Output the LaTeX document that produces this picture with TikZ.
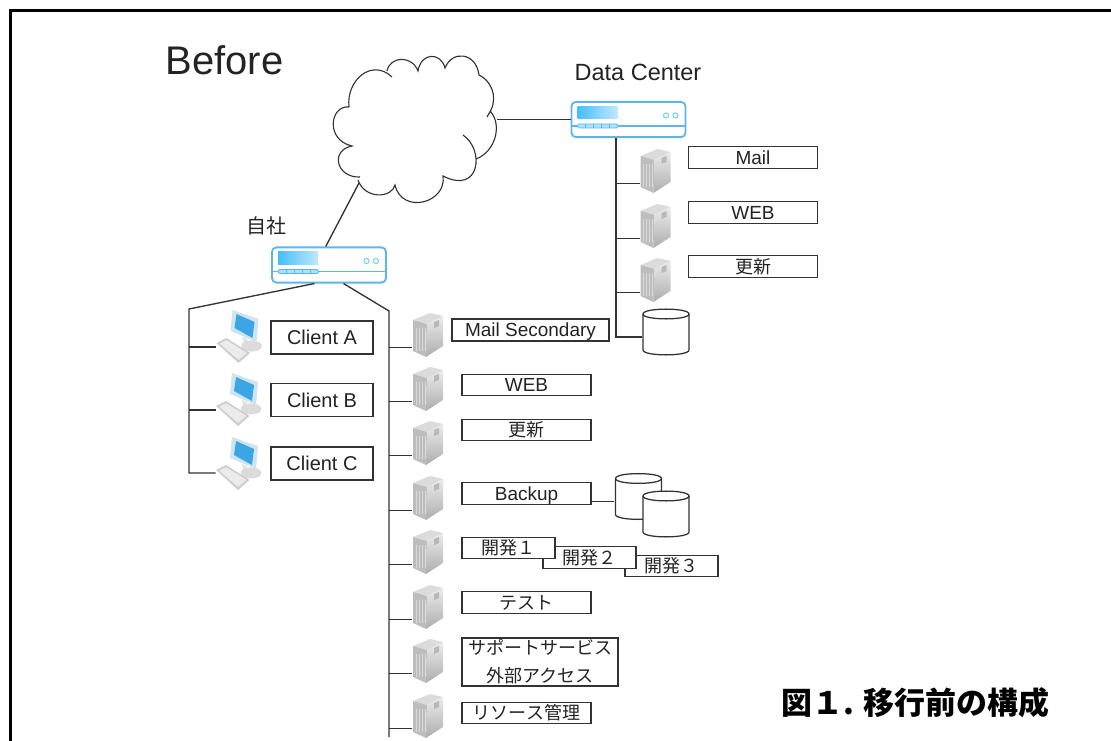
\documentclass[tikz,border=0pt]{standalone}
\usepackage{fontspec}
\setmainfont{Liberation Sans}
\newfontfamily\jpfont{Noto Sans CJK JP}

\definecolor{colorline}{RGB}{50,50,50}
\definecolor{colortext}{RGB}{35,35,35}
\definecolor{colorrouter}{RGB}{95,180,235}
\definecolor{colorbar}{RGB}{70,190,250}
\definecolor{colorscreen}{RGB}{60,165,230}
\definecolor{colormonitor}{RGB}{208,228,240}

\tikzset{
	conn/.style={draw=colorline, line width=0.95pt},
	tagbox/.style={draw=colorline, fill=white, line width=0.9pt, inner sep=0pt, text=colortext, minimum width=3.225cm, minimum height=0.54cm, text height=12pt, text depth=2.2pt, font=\fontsize{13.5pt}{20pt}\selectfont},
	tagjp/.style={tagbox, font=\fontsize{12.8pt}{20pt}\selectfont\jpfont},
	clientbox/.style={tagbox, minimum width=2.55cm, minimum height=0.83cm, text height=13pt, text depth=3pt, font=\fontsize{14.2pt}{17pt}\selectfont},
	diskbox/.style={minimum width=1.2cm, minimum height=1.2cm, inner sep=0pt,
		path picture={
			\begin{scope}[shift={(path picture bounding box.center)}]
				\draw[colorline, fill=white, line width=0.9pt] (-23,-18) -- (-23,18) .. controls (-23,24.5) and (23,24.5) .. (23,18) -- (23,-18) .. controls (23,-24.5) and (-23,-24.5) .. (-23,-18) -- cycle;
				\draw[colorline, line width=0.9pt] (-23,-18) .. controls (-23,-11.5) and (23,-11.5) .. (23,-18);
			\end{scope}
		}},
	routerbox/.style={draw=colorrouter, fill=white, line width=1.3pt, rounded corners=0.11cm, minimum width=2.85cm, minimum height=0.88cm, inner sep=0pt,
		path picture={
			\begin{scope}[shift={(path picture bounding box.center)}, sharp corners]
				\shade[left color=colorbar, right color=colorbar!35] (-51,-13) rectangle (-11,-0.5);
				\draw[colorrouter, line width=0.8pt] (-60,6.5) -- (60,6.5);
				\draw[colorrouter, fill=colorbar!45, line width=0.6pt, rounded corners=0.04cm] (-51,4.5) rectangle (-10.5,8.5);
				\foreach \tickx in {-43,-35,-27,-19} {
					\draw[colorrouter, line width=0.4pt] (\tickx,4.5) -- (\tickx,8.5);
				}
				\draw[colorbar!70, line width=0.8pt] (37.5,-4) circle (0.065cm);
				\draw[colorbar!70, line width=0.8pt] (47,-4) circle (0.065cm);
			\end{scope}
		}},
	serverbox/.style={minimum width=0.775cm, minimum height=1.125cm, inner sep=0pt,
		path picture={
			\begin{scope}[shift={(path picture bounding box.center)}]
				\fill[black!14] (-15,-15) -- (2,-22) -- (15,-19) -- (-1,-11) -- cycle;
				\fill[black!26] (-15,-15) -- (-1,-11) -- (-2,22) -- (-15,16) -- cycle;
				\shade[top color=black!8, bottom color=black!32] (-1,-11) -- (15,-19) -- (15,11) -- (-2,22) -- cycle;
				\foreach \stripex in {-12,-9,-6,-3} {
					\draw[white!85!black, line width=0.7pt] (\stripex,-7) -- (\stripex,16);
				}
				\fill[black!28] (6,-13) -- (11,-15) -- (11,-9) -- (6,-7) -- cycle;
			\end{scope}
		}},
	pcbox/.style={minimum width=1.15cm, minimum height=1.35cm, inner sep=0pt,
		path picture={
			\begin{scope}[shift={(path picture bounding box.center)}]
				\fill[black!10] (3,0) -- (8,2) -- (9,9) -- (4,8) -- cycle;
				\fill[black!14] (12,9) ellipse (0.26cm and 0.14cm);
				\fill[black!20] (-23,6) -- (-13,1) -- (10.5,16) -- (-1,26) -- cycle;
				\fill[black!8] (-20,6.5) -- (-13,3) -- (7.5,16) -- (-1,23) -- cycle;
				\fill[colormonitor] (-7,-27) -- (19,-18) -- (17,5) -- (-9,-6) -- cycle;
				\fill[colorscreen] (-3,-23) -- (15,-15) -- (13,1) -- (-5,-9) -- cycle;
			\end{scope}
		}},
}

\begin{document}
\begin{tikzpicture}[x=0.025cm, y=-0.025cm]
	\useasboundingbox (0,0) rectangle (1111,741);
	\draw[black, line width=2.2pt] (10.5,741) -- (10.5,10.5) -- (1111,10.5);

	\node[text=colortext, font=\fontsize{28.4pt}{32pt}\selectfont] (before) at (224.5,60) {Before};
	\node[text=colortext, font=\fontsize{16.7pt}{20pt}\selectfont] (dclabel) at (638,72) {Data Center};
	\node[text=colortext, font=\fontsize{14.2pt}{17pt}\selectfont\jpfont] (ownlabel) at (266,226) {自社};
	\node[text=black, font=\fontsize{22pt}{26pt}\selectfont\jpfont\bfseries] (caption) at (915.5,703) {図１. 移行前の構成};

	% cloud
	\node[minimum width=4.15cm, minimum height=3.8cm, inner sep=0pt] (cloud) at (414,129) {};
	\coordinate (cloudfoot) at (359,183);
	\draw[conn, line width=0.8pt] (349,107) .. controls (346,80) and (372,58) .. (392,77)
		(387,71) .. controls (390,56) and (412,55) .. (418,71)
		.. controls (421,52) and (441,52) .. (445,68)
		.. controls (452,50) and (476,52) .. (479,75)
		.. controls (490,80) and (498,95) .. (491,110) -- (487,117)
		(490,111) .. controls (503,125) and (495,152) .. (476,159)
		(463,135) .. controls (485,150) and (480,195) .. (443,176)
		.. controls (447,203) and (402,215) .. (395,185)
		.. controls (392,198) and (365,200) .. (358,180)
		(360,177) .. controls (336,178) and (330,150) .. (352,146)
		.. controls (325,140) and (330,105) .. (349,107);

	% routers
	\node[routerbox] (rtdc) at (628.5,119.5) {};
	\node[routerbox] (rtown) at (329,265) {};

	% data center
	\coordinate (dcend) at (616,337);
	\node[serverbox] (dcs1) at (655.5,171) {};
	\node[serverbox] (dcs2) at (655.5,226) {};
	\node[serverbox] (dcs3) at (655.5,280) {};
	\node[diskbox] (dcdisk) at (666,332) {};
	\node[tagbox] (dcmail) at (753,157.5) {Mail};
	\node[tagbox] (dcweb) at (753,212.5) {WEB};
	\node[tagjp] (dcupd) at (753,266.5) {更新};
	\draw[conn] (cloud.east |- rtdc.west) -- (rtdc.west);
	\draw[conn] (rtdc.south -| dcend) -- (dcend) -- (dcend -| dcdisk.west);
	\foreach \srv in {dcs1,dcs2,dcs3} {
		\draw[conn] (\srv.218 -| dcend) -- (\srv.218);
	}

	% clients
	\coordinate (lanleft) at (189,309);
	\coordinate (lanleftend) at (189,473);
	\node[pcbox] (pca) at (239.5,337) {};
	\node[pcbox] (pcb) at (239,400) {};
	\node[pcbox] (pcc) at (239,464) {};
	\node[clientbox] (cla) at (322,337.5) {Client A};
	\node[clientbox] (clb) at (322,400) {Client B};
	\node[clientbox] (clc) at (322,463.5) {Client C};
	\draw[conn] (rtown.232) -- (lanleft) -- (lanleftend) -- (lanleftend -| pcc.west);
	\draw[conn] (lanleft |- pca.203) -- (pca.203);
	\draw[conn] (lanleft |- pcb.203) -- (pcb.203);

	% servers
	\coordinate (lanright) at (389,311);
	\coordinate (lanrightend) at (389,737);
	\foreach \srv/\posy in {sva/335,svb/389,svc/443,svd/498,sve/552,svf/607,svg/661,svh/716} {
		\node[serverbox] (\srv) at (428,\posy) {};
	}
	\node[tagbox, minimum width=3.925cm, minimum height=0.55cm] (mailsec) at (530.5,330) {Mail Secondary};
	\node[tagbox] (web) at (526.5,385) {WEB};
	\node[tagjp] (upd) at (526.5,430) {更新};
	\node[tagbox] (backup) at (526.5,493.5) {Backup};
	\node[tagjp, minimum width=2.325cm] (dev3) at (671.5,566) {開発３};
	\node[tagjp, minimum width=2.325cm] (dev2) at (589.5,557.5) {開発２};
	\node[tagjp, minimum width=2.325cm] (dev1) at (508.5,548) {開発１};
	\node[tagjp] (test) at (526.5,602.5) {テスト};
	\node[tagjp, align=center, text height=, text depth=, minimum width=3.9cm, minimum height=1.2cm] (support) at (540,662) {サポートサービス\\外部アクセス};
	\node[tagjp] (resource) at (526.5,713) {リソース管理};
	\node[diskbox] (bkdisk1) at (638.5,496.5) {};
	\node[diskbox] (bkdisk2) at (666,514) {};
	\draw[conn] (rtown.308) -- (lanright) -- (lanrightend);
	\foreach \srv in {sva,svb,svc,svd,sve,svf,svg,svh} {
		\draw[conn] (\srv.218 -| lanright) -- (\srv.218);
	}
	\draw[conn] (backup.353) -- (backup.353 -| bkdisk1.west);
	\draw[conn] (cloudfoot) -- (rtown.100);
\end{tikzpicture}
\end{document}
